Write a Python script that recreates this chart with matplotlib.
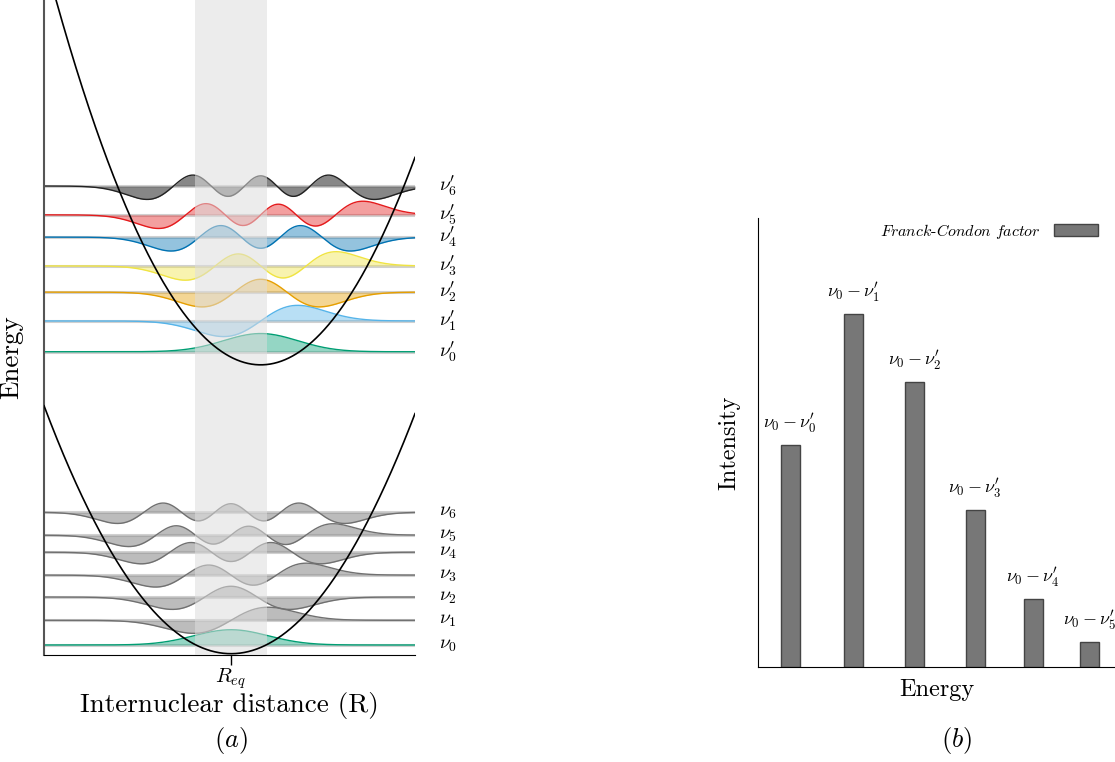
import numpy as np
import matplotlib
matplotlib.use("Agg")
import matplotlib.pyplot as plt
from numpy.polynomial.hermite import hermval
from math import factorial, pi, sqrt

plt.rcParams['font.family'] = 'serif'
plt.rcParams['font.serif'] = ['cmr10']
plt.rcParams['mathtext.fontset'] = 'cm'
plt.rcParams['axes.formatter.use_mathtext'] = True

# potential wells (lower = ground state, upper = excited state)
r_eq_lower = 0.0
r_eq_upper = 0.8
min_lower = 0.02
min_upper = 4.43
curv_lower = 0.149
curv_upper = 0.183

# vibrational levels
lower_levels = [0.153, 0.53, 0.885, 1.22, 1.57, 1.83, 2.18]
upper_levels = [4.63, 5.10, 5.54, 5.94, 6.38, 6.72, 7.16]
wf_signs = [1, 1, -1, 1, -1, 1, -1]
lower_amp = 0.31
upper_amp = 0.37
lower_labels = [r"$\nu_{%d}$" % n for n in range(7)]
upper_labels = [r"$\nu_{%d}^{\prime}$" % n for n in range(7)]
upper_colors = ['#009E73', '#56B4E9', '#E69F00', '#F0E442', '#0072B2', '#E41A1C', '#222222']
lower_colors = ['#009E73'] + ['#707070'] * 6

# Franck-Condon spectrum
bar_energy = [0.0, 1.0, 1.98, 2.94, 3.86, 4.76]
fc_factor = [0.222, 0.353, 0.285, 0.157, 0.068, 0.025]
bar_labels = [r"$\nu_0 - \nu_{%d}^{\prime}$" % n for n in range(6)]


def psi(n, xi):
    # normalised harmonic oscillator wavefunction
    c = np.zeros(n + 1)
    c[n] = 1
    norm = 1 / sqrt(2 ** n * factorial(n) * sqrt(pi))
    return norm * hermval(xi, c) * np.exp(-xi ** 2 / 2)


fig = plt.figure(figsize=(11.15, 7.62), dpi=100)
ax1 = fig.add_axes([0.0395, 0.1404, 0.3327, 0.8596])
ax2 = fig.add_axes([0.6798, 0.1247, 0.3202, 0.5892])

x = np.linspace(-5.04, 4.96, 800)

# wells
ax1.plot(x, min_lower + curv_lower * (x - r_eq_lower) ** 2, color='black', lw=1.2, zorder=5)
ax1.plot(x, min_upper + curv_upper * (x - r_eq_upper) ** 2, color='black', lw=1.2, zorder=5)

# wavefunctions
for wells in [(lower_levels, lower_colors, lower_amp, r_eq_lower, lower_labels),
              (upper_levels, upper_colors, upper_amp, r_eq_upper, upper_labels)]:
    levels, colors, amp, center, labels = wells
    for n, level in enumerate(levels):
        y = level + amp * wf_signs[n] * psi(n, x - center)
        c = colors[n]
        fill_alpha = 0.42
        if c == '#222222':
            c_fill, fill_alpha = '#555555', 0.7
        elif c == '#707070':
            c_fill, fill_alpha = '#909090', 0.6
        else:
            c_fill = c
        ax1.plot([x[0], x[-1]], [level, level], color='#d0d0d0', lw=2.2, zorder=1)
        ax1.fill_between(x, level, y, color=c_fill, alpha=fill_alpha, lw=0, zorder=2)
        ax1.plot(x, y, color=c, lw=1, zorder=2.5)
        ax1.text(1.065, level, labels[n], transform=ax1.get_yaxis_transform(),
                 fontsize=14, va='center', ha='left', clip_on=False)

ax1.axvspan(-0.97, 0.97, color='#dddddd', alpha=0.55, lw=0, zorder=3)

ax1.set_xlim(-5.04, 4.96)
ax1.set_ylim(0, 10)
ax1.set_xticks([r_eq_lower])
ax1.set_xticklabels([r"$R_{eq}$"], fontsize=15)
ax1.tick_params(axis='x', length=7, width=1, direction='out', pad=1)
ax1.set_yticks([])
ax1.spines['top'].set_visible(False)
ax1.spines['right'].set_visible(False)
ax1.spines['left'].set_color('#555555')
ax1.spines['left'].set_linewidth(1.5)
ax1.set_xlabel("Internuclear distance (R)", fontsize=19.5)
ax1.xaxis.set_label_coords(0.5, -0.057)
ax1.set_ylabel("Energy", fontsize=19.5)
ax1.yaxis.set_label_coords(-0.055, 0.455)
fig.text(231 / 1115, 1 - 740 / 762, r"$\mathit{(a)}$", fontsize=19, ha='center', va='center')

# spectrum
ax2.bar(bar_energy, fc_factor, width=0.30, color='#777777', edgecolor='#444444', lw=1,
        label=r"$\mathit{Franck}$-$\mathit{Condon\ factor}$")
for e, h, lab in zip(bar_energy, fc_factor, bar_labels):
    ax2.text(e, h + 0.010, lab, fontsize=13, ha='center', va='bottom', clip_on=False)

ax2.set_xlim(-0.51, 5.16)
ax2.set_ylim(0, 0.449)
ax2.set_xticks([])
ax2.set_yticks([])
ax2.spines['top'].set_visible(False)
ax2.spines['right'].set_visible(False)
ax2.set_xlabel("Energy", fontsize=17.5)
ax2.xaxis.set_label_coords(0.5, -0.027)
ax2.set_ylabel("Intensity", fontsize=17.5)
ax2.yaxis.set_label_coords(-0.05, 0.5)
ax2.legend(frameon=False, markerfirst=False, loc='center right', bbox_to_anchor=(0.971, 0.971),
           handlelength=2.8, handleheight=0.7, borderaxespad=0, fontsize=11.5)
fig.text(957 / 1115, 1 - 740 / 762, r"$\mathit{(b)}$", fontsize=19, ha='center', va='center')

fig.savefig("out.png", dpi=100)
